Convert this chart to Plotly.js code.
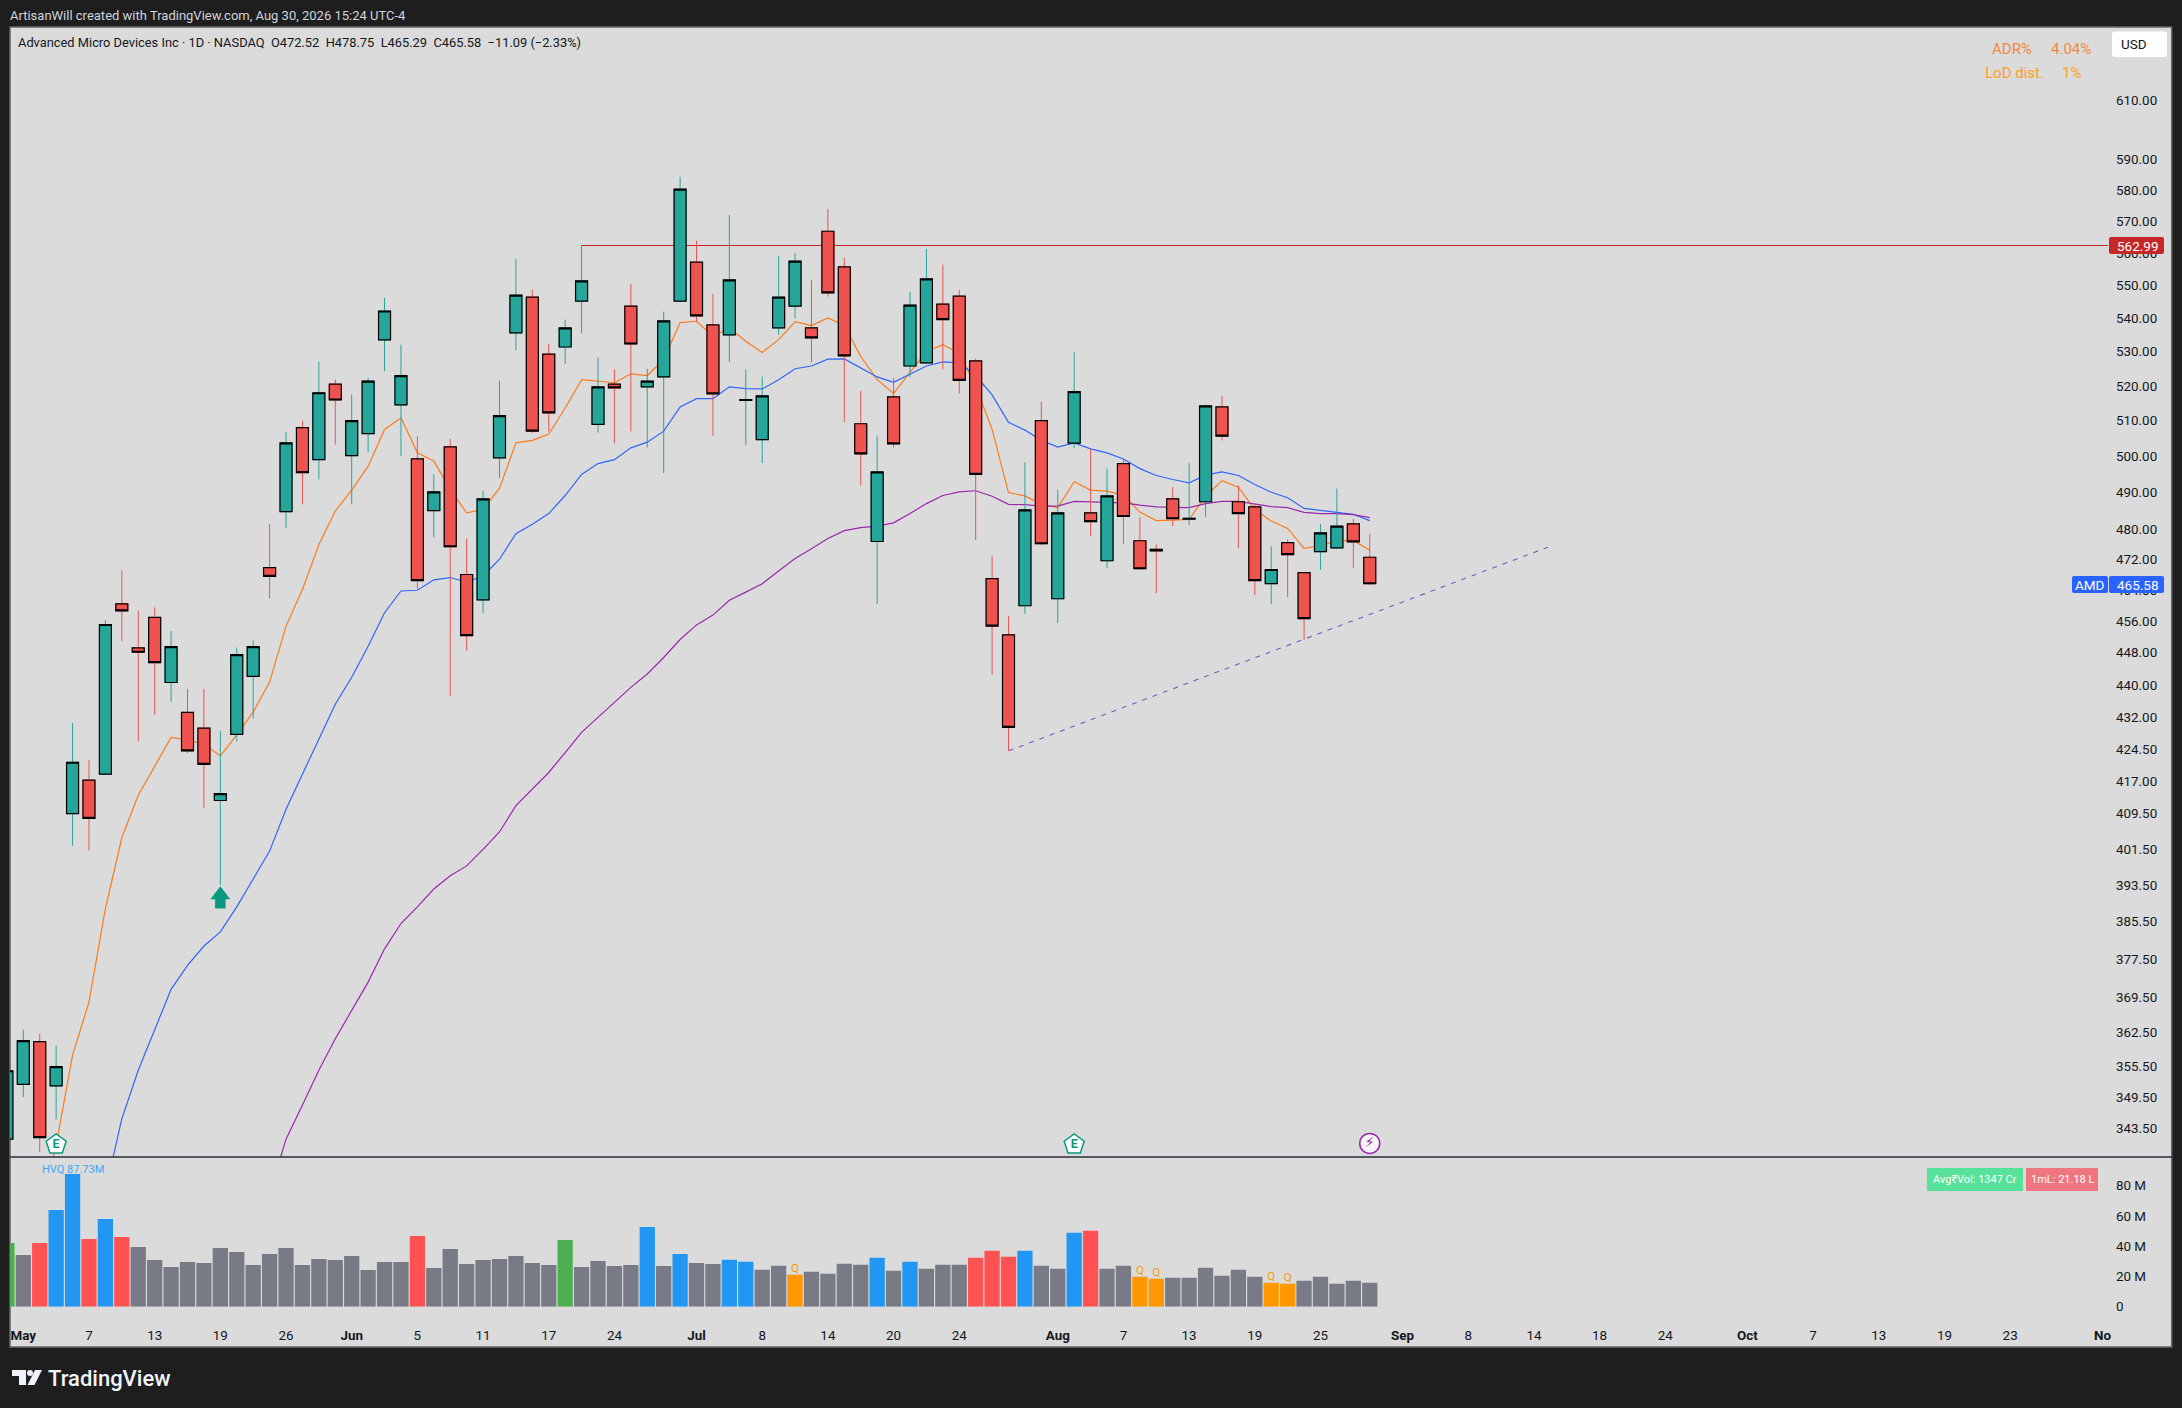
<!DOCTYPE html>
<html><head><meta charset="utf-8">
<script src="https://cdn.plot.ly/plotly-3.0.1.min.js"></script>
<style>html,body{margin:0;padding:0;background:#1e1e1e}#c{width:2182px;height:1408px}</style>
</head><body><div id="c"></div>
<script>
// ---------- data (bar index 0 = May 1, first value of candles = index -1) ----------
const opens=[341.4,352.0,360.5,351.7,409.5,417.2,418.6,460.4,449.2,456.9,440.6,433.3,429.5,412.5,428,442.1,469.8,484.7,508,499,520.5,500.1,506.3,533.5,514.5,499.2,485,502.6,468,461.4,499.5,535.6,546.4,529.3,531.4,545.2,508.9,520.5,543.7,519.7,522.6,545.2,557.2,538,535,515.8,504.6,537.1,543.7,537.1,566.9,555.7,509.1,476.7,516.8,525.8,526.7,544.3,546.7,527.3,466.9,452.5,459.9,510,461.7,503.6,484.4,471.6,497.9,476.9,474.6,488.2,482.7,487.4,513.9,487.4,486,465.6,476.4,468.5,474,475,481.4,472.52];
const highs=[356.7,362.9,362.1,359.7,430.7,421.9,456.2,469.1,458.7,459.5,453.4,439,439,428.8,449.3,451,481.3,506.8,510,527.1,521.8,517.5,522.3,546.2,532.1,505.5,494.9,504.8,477.5,490.4,521.5,558.2,548.6,532.4,539.6,562.4,528.3,524.8,550.5,525,542,584.4,563.9,547.4,572.1,524.8,522.7,559.2,560.1,551.6,574,558.5,518.6,505.8,522.3,548,561.3,556.4,548.6,528,472.8,457.2,498.2,515.4,490.7,530,502,496.5,499.1,483.2,475.9,491.5,498,514.6,517.1,491.9,486.9,475.4,477.3,468.6,481.4,491,482.8,478.75];
const lows=[339.6,349.5,338.9,345.2,402.2,401.2,418.6,450.9,426.3,432.7,435.9,423.6,410.8,393.5,426.3,431.8,461.8,480.3,486.7,493.5,503.2,486.7,501.1,524.3,500,464.1,477.8,437.3,448.4,458,494,530.4,506.5,506.9,526.3,535.5,506.6,503.6,506.9,502.4,495.3,545,538.8,505.7,526.9,503,498,535.1,540,526.9,546.6,509.6,491.9,460.3,502.4,522.5,526.5,524.8,517.8,477.1,442.5,424.1,457.8,475.7,455.5,502.2,478.2,469.7,476,469.3,463.1,480.8,481.1,483.3,504.4,474.9,462.6,460.3,462.1,451.2,469.2,474.7,469.7,465.29];
const closes=[354.7,360.7,341.7,355.5,421.4,408.4,455.1,458.6,448.1,445.5,449.5,424.1,420.9,414.1,447.5,449.5,467.5,503.7,495.4,518,515.9,510,521.4,542.2,523,466.4,490.1,475.3,452.3,488.2,511.4,547,507,512.2,537.1,551.4,519.7,519.4,532.3,521.4,539.2,580.4,540.7,517.7,551.7,516,517.1,546.4,557.5,534.1,547.7,528.8,500.6,495.6,503.4,544,552,539.6,521.6,494.9,454.7,429.7,485.2,476.1,484.4,518.3,482,489,483.4,469.5,474.2,482.8,482.9,514.2,505.6,484.2,466.4,469.3,473.2,456.6,479,480.8,476.6,465.58];
const volumes=[42.1,34.2,42.1,63.9,87.73,44.7,58,46.1,39.4,30.9,26.2,29.5,28.9,38.8,36.1,27.5,34.8,38.8,27.5,31.5,30.9,33.5,24.2,29.5,29.5,46.7,25.6,38.1,28.2,30.9,31.5,33.5,28.9,27.5,44.1,26.2,30.2,26.9,27.5,52.7,26.9,34.8,28.9,28.2,31.1,29.7,24.5,27.1,21.2,23.1,21.8,28.4,27.8,32.4,23.8,29.7,25.1,27.8,27.8,32.4,37,33.1,37,27.1,25.1,48.9,50.2,25.1,27.1,19.8,18.5,19.2,19.2,25.8,20.5,24.5,19.8,15.9,15.2,17.2,19.8,15.2,17.2,15.9];
const volBlue=[2,3,5,38,40,43,44,52,54,61,64];
const volRed=[1,4,6,24,58,59,60,65];
const volGreen=[-1,33];
const volOrange=[47,68,69,76,77];
const orangeStart=1;
const orangeLine=[328.4,340.2,357.8,368.6,388.3,404,413.7,420.5,427.3,426.7,425.7,422.9,427.9,433.4,440.7,454.7,464.1,475.9,484.9,490.6,497.2,507.5,510.8,500.9,498.6,490.8,484.4,485.3,491.1,503.7,504.4,506.2,513.6,521.8,521.3,520.9,523.5,523,527.7,538.7,539.1,534.6,537.1,533.1,529.8,533.6,539,537.8,540.1,537.8,528.6,521.8,517.8,523.8,530.1,532.1,529.6,519.9,507.5,489.9,489,486.7,485.8,492.9,490.6,490.3,489.2,484.6,482.3,482.4,482.6,488.9,493.2,491.4,485.3,482.2,480.2,474.9,475.6,476.9,477,474.4];
const blueStart=5;
const blueLine=[331.7,345.3,354.8,363.1,371.2,376.2,380.3,383.3,388.7,394.8,401,410.5,418.6,426.9,435.3,441.9,449.6,458.1,463.7,463.9,466.6,467.2,466,467.6,472,478.8,481.3,484.2,489.1,494.9,497.9,499,502.3,503.9,507,513.9,516.3,516.3,519.7,519.2,519.1,521.8,525,525.8,527.8,527.9,525.3,522.6,521,523.3,525.8,527,526.7,523,517.4,509.5,507.3,504.4,502.5,503.7,502,500.9,499.2,496.5,494.6,493.5,492.6,494.7,495.6,494.6,492.1,490,488.5,485.6,485,484.6,484,482.3];
const purpleStart=15;
const purpleLine=[331.2,341.4,348,354.8,361.1,366.8,372.7,379.7,385.1,388.7,392.6,395.5,397.7,401.4,405.3,411.3,415.1,419,423.7,428.5,432.1,435.7,439.4,442.7,446.8,451.3,455,457.5,461.3,463.4,465.6,468.9,472.2,474.8,477.5,479.6,480.4,480.8,481.7,484.2,486.9,489.1,490.1,490.4,488.9,486.7,486.6,486.2,486.2,487.5,487.3,487.3,487.1,486.5,486,485.9,485.8,486.9,487.5,487.5,486.7,486.1,485.8,484.5,484.2,484.2,483.9,483.1];
const levelIdx=[34,126.96], levelPrice=[562.4,562.4];
const levelLabel='562.99';
const trendIdx=[60,92.85], trendPrice=[424.1,475.2];
const lastPrice=465.58;
const earningsIdx=[2,64], earningsPrice=[340.4,340.4];
const dividendIdx=[82], dividendPrice=[340.6];
const signalIdx=[12], signalHead=[391.3], signalStem=[389.5];
const yTicks=[610,590,580,570,560,550,540,530,520,510,500,490,480,472,464,456,448,440,432,424.5,417,409.5,401.5,393.5,385.5,377.5,369.5,362.5,355.5,349.5,343.5];
const volTicks=[0,20,40,60,80];
const volTickText=['0','20 M','40 M','60 M','80 M'];
const xTickIdx=[0,4,8,12,16,20,24,28,32,36,41,45,49,53,57,63,67,71,75,79,84,88,92,96,100,105,109,113,117,121,126.63];
const xTickText=['<b>May</b>','7','13','19','26','<b>Jun</b>','5','11','17','24','<b>Jul</b>','8','14','20','24','<b>Aug</b>','7','13','19','25','<b>Sep</b>','8','14','18','24','<b>Oct</b>','7','13','19','23','<b>No</b>'];

// ---------- layout helpers ----------
const W=2182,H=1408;
const fx=p=>p/W, fy=p=>1-p/H;
const FONT='Roboto, sans-serif';
const GREEN='#26a69a',RED='#ef5350',BLACK='#000000';
const PANE_TOP=27,PANE_BOT=1157,VOL_TOP=1158,VOL_BASE=1306.7,LEFT=10,AXIS=2108,RIGHT=2171.7,BOTTOM=1347;
const LOG_RANGE=[2.52894,2.80305];
const priceY=p=>PANE_TOP+(LOG_RANGE[1]-Math.log10(p))/(LOG_RANGE[1]-LOG_RANGE[0])*(PANE_BOT-PANE_TOP);
const X=(arr,start)=>arr.map((_,k)=>k+start);
const candleX=X(opens,-1);
const volColor=candleX.map(i=>volBlue.includes(i)?'#2196f3':volRed.includes(i)?'#ff5252':volGreen.includes(i)?'#4caf50':volOrange.includes(i)?'#ff9800':'#787b86');

function rr(x0,y0,x1,y1,r,fill){
  const P=(a,b)=>fx(a).toFixed(6)+','+fy(b).toFixed(6);
  const d=`M${P(x0+r,y0)}L${P(x1-r,y0)}Q${P(x1,y0)} ${P(x1,y0+r)}L${P(x1,y1-r)}Q${P(x1,y1)} ${P(x1-r,y1)}L${P(x0+r,y1)}Q${P(x0,y1)} ${P(x0,y1-r)}L${P(x0,y0+r)}Q${P(x0,y0)} ${P(x0+r,y0)}Z`;
  return {type:'path',xref:'paper',yref:'paper',path:d,fillcolor:fill,line:{width:0},layer:'above'};
}
function poly(pts,fill){
  const d='M'+pts.map(p=>fx(p[0]).toFixed(6)+','+fy(p[1]).toFixed(6)).join('L')+'Z';
  return {type:'path',xref:'paper',yref:'paper',path:d,fillcolor:fill,line:{width:0},layer:'above'};
}
function txt(x,y,text,size,color,anchor,weight){
  return {xref:'paper',yref:'paper',x:fx(x),y:fy(y),text:text,showarrow:false,xanchor:anchor||'left',yanchor:'middle',
    font:{family:FONT,size:size,color:color,weight:weight||400},borderpad:0,borderwidth:0};
}
const lvlY=priceY(levelPrice[0]), lastY=priceY(lastPrice)+0.8;
const shapes=[
  {type:'rect',xref:'paper',yref:'paper',x0:fx(LEFT),x1:fx(RIGHT),y0:fy(PANE_TOP),y1:fy(BOTTOM),fillcolor:'#dbdbdb',line:{color:'#666666',width:1.5},layer:'below'},
  {type:'line',xref:'paper',yref:'paper',x0:fx(LEFT),x1:fx(RIGHT),y0:fy(PANE_BOT),y1:fy(PANE_BOT),line:{color:'#2a2e39',width:1.5},layer:'above'},
  rr(2112,31.5,2167,57,3,'#ffffff'),
  rr(2109,lvlY-8.5,2164,lvlY+8.5,2,'#c62828'),
  rr(2072,lastY-8.5,2108,lastY+8.5,2,'#2962ff'),
  rr(2109,lastY-8.5,2164,lastY+8.5,2,'#2962ff'),
  rr(1927,1168,2023,1191,0,'#56e29a'),
  rr(2026,1168,2098,1191,0,'#ef7680'),
  poly([[12,1370],[26,1370],[26,1385],[19,1385],[19,1376],[12,1376]],'#f0f3fa'),
  poly([[27.5,1385],[35,1370],[42,1370],[34.5,1385]],'#f0f3fa'),
  {type:'circle',xref:'paper',yref:'paper',x0:fx(27),x1:fx(33),y0:fy(1370),y1:fy(1376),fillcolor:'#f0f3fa',line:{width:0},layer:'above'}
];
const annotations=[
  txt(10,15.9,'ArtisanWill created with TradingView.com, Aug 30, 2026 15:24 UTC-4',13,'#d1d4dc'),
  txt(18,42.7,'Advanced Micro Devices Inc · 1D · NASDAQ&nbsp;&nbsp;O472.52&nbsp;&nbsp;H478.75&nbsp;&nbsp;L465.29&nbsp;&nbsp;C465.58&nbsp;&nbsp;−11.09 (−2.33%)',12.85,'#131722'),
  txt(1992,49,'ADR%',15,'#f5883a'),txt(2050.5,49,'4.04%',15,'#f5883a'),
  txt(1984.5,72.6,'LoD dist.',15,'#ff9e1f'),txt(2062,72.6,'1%',15,'#ff9e1f'),
  txt(2121,43.8,'USD',13.5,'#131722'),
  txt(2117,lvlY,levelLabel,13.5,'#ffffff'),
  txt(2090,lastY,'AMD',13.5,'#ffffff','center'),
  txt(2117,lastY,lastPrice.toFixed(2),13.5,'#ffffff'),
  txt(1933,1179.5,'Avg₹Vol: 1347 Cr',11,'#ffffff'),
  txt(2031,1179.5,'1mL: 21.18 L',11,'#ffffff'),
  txt(48,1378,'TradingView',22,'#f0f3fa','left',500),
  {xref:'x',yref:'y2',x:3,y:volumes[4],text:'HVQ 87.73M',showarrow:false,xanchor:'center',yanchor:'middle',yshift:4.5,
    font:{family:FONT,size:11,color:'#42a5f5'}}
];

const traces=[
  {type:'scatter',mode:'lines',x:X(orangeLine,orangeStart),y:orangeLine,xaxis:'x',yaxis:'y',line:{color:'#ff7a1a',width:1.2},hoverinfo:'skip'},
  {type:'scatter',mode:'lines',x:X(blueLine,blueStart),y:blueLine,xaxis:'x',yaxis:'y',line:{color:'#2f66ff',width:1.2},hoverinfo:'skip'},
  {type:'scatter',mode:'lines',x:X(purpleLine,purpleStart),y:purpleLine,xaxis:'x',yaxis:'y',line:{color:'#9c27b0',width:1.2},hoverinfo:'skip'},
  {type:'scatter',mode:'lines',x:levelIdx,y:levelPrice,xaxis:'x',yaxis:'y',line:{color:'#c62828',width:1},hoverinfo:'skip'},
  {type:'scatter',mode:'lines',x:trendIdx,y:trendPrice,xaxis:'x',yaxis:'y',line:{color:'#7e57c2',width:1.1,dash:'5px,6px'},hoverinfo:'skip'},
  // wicks
  {type:'candlestick',x:candleX,open:opens,high:highs,low:lows,close:closes,xaxis:'x',yaxis:'y3',whiskerwidth:0,
    increasing:{line:{color:GREEN,width:1},fillcolor:GREEN},decreasing:{line:{color:RED,width:1},fillcolor:RED},hoverinfo:'skip'},
  // bodies with black outline
  {type:'candlestick',x:candleX,open:opens,close:closes,
    high:opens.map((o,k)=>Math.max(o,closes[k])),low:opens.map((o,k)=>Math.min(o,closes[k])),xaxis:'x',yaxis:'y3',whiskerwidth:0,
    increasing:{line:{color:BLACK,width:1.2},fillcolor:GREEN},decreasing:{line:{color:BLACK,width:1.2},fillcolor:RED},hoverinfo:'skip'},
  // signal arrow
  {type:'scatter',mode:'markers',x:signalIdx,y:signalStem,xaxis:'x',yaxis:'y3',marker:{symbol:'square',size:10.5,color:'#089981',line:{width:0}},hoverinfo:'skip'},
  {type:'scatter',mode:'markers',x:signalIdx,y:signalHead,xaxis:'x',yaxis:'y3',marker:{symbol:'triangle-up',size:17.3,color:'#089981',line:{width:0}},hoverinfo:'skip'},
  // event badges
  {type:'scatter',mode:'markers+text',x:earningsIdx,y:earningsPrice,text:earningsIdx.map(()=>'<b>E</b>'),textposition:'middle center',
    textfont:{family:FONT,size:12.5,color:'#089981'},
    xaxis:'x',yaxis:'y3',marker:{symbol:'pentagon',size:21,color:'#ffffff',line:{color:'#089981',width:1.5}},hoverinfo:'skip',cliponaxis:false},
  {type:'scatter',mode:'markers+text',x:dividendIdx,y:dividendPrice,text:['⚡'],textposition:'middle center',textfont:{family:'DejaVu Sans',size:14,color:'#9c27b0'},
    xaxis:'x',yaxis:'y3',marker:{symbol:'circle',size:20,color:'#f4f4f4',line:{color:'#9c27b0',width:1.5}},hoverinfo:'skip',cliponaxis:false},
  // volume
  {type:'bar',x:candleX,y:volumes,xaxis:'x',yaxis:'y2',marker:{color:volColor,line:{width:0}},hoverinfo:'skip'},
  {type:'scatter',mode:'text',x:volOrange,y:volOrange.map(i=>volumes[i+1]),text:volOrange.map(()=>'Q'),textposition:'top center',
    textfont:{family:FONT,size:11.5,color:'#ff9800'},xaxis:'x',yaxis:'y2',hoverinfo:'skip'}
];
const axisFont={family:FONT,size:13.4,color:'#131722'};
const layout={
  width:W,height:H,margin:{l:0,r:0,t:0,b:0,pad:0},autosize:false,showlegend:false,hovermode:false,dragmode:false,
  paper_bgcolor:'#1e1e1e',plot_bgcolor:'rgba(0,0,0,0)',
  font:{family:FONT,size:13,color:'#131722'},
  bargap:0.07,boxgap:0.15,boxgroupgap:0.14,boxmode:'overlay',
  xaxis:{domain:[fx(LEFT),fx(AXIS)],range:[-0.81,126.96],anchor:'y2',showgrid:false,zeroline:false,showline:false,ticks:'',
    tickmode:'array',tickvals:xTickIdx,ticktext:xTickText,tickfont:axisFont,ticklabelstandoff:19,tickangle:0,rangeslider:{visible:false},fixedrange:true},
  yaxis:{domain:[fy(PANE_BOT),fy(PANE_TOP)],type:'log',range:LOG_RANGE,side:'right',anchor:'x',showgrid:false,zeroline:false,showline:false,ticks:'',
    tickmode:'array',tickvals:yTicks,ticktext:yTicks.map(v=>v.toFixed(2)),tickfont:axisFont,ticklabelstandoff:7,ticklabelshift:1.5,fixedrange:true},
  yaxis3:{domain:[fy(PANE_BOT),fy(PANE_TOP)],type:'log',range:LOG_RANGE,side:'right',anchor:'x',overlaying:'y',showgrid:false,zeroline:false,showline:false,ticks:'',showticklabels:false,fixedrange:true},
  yaxis2:{domain:[fy(VOL_BASE),fy(VOL_TOP)],range:[0,(VOL_BASE-VOL_TOP)/1.5127],side:'right',anchor:'x',showgrid:false,zeroline:false,showline:false,ticks:'',
    tickmode:'array',tickvals:volTicks,ticktext:volTickText,tickfont:axisFont,ticklabelstandoff:7,fixedrange:true},
  shapes:shapes,annotations:annotations
};
Plotly.newPlot('c',traces,layout,{staticPlot:true,displayModeBar:false});
</script></body></html>
